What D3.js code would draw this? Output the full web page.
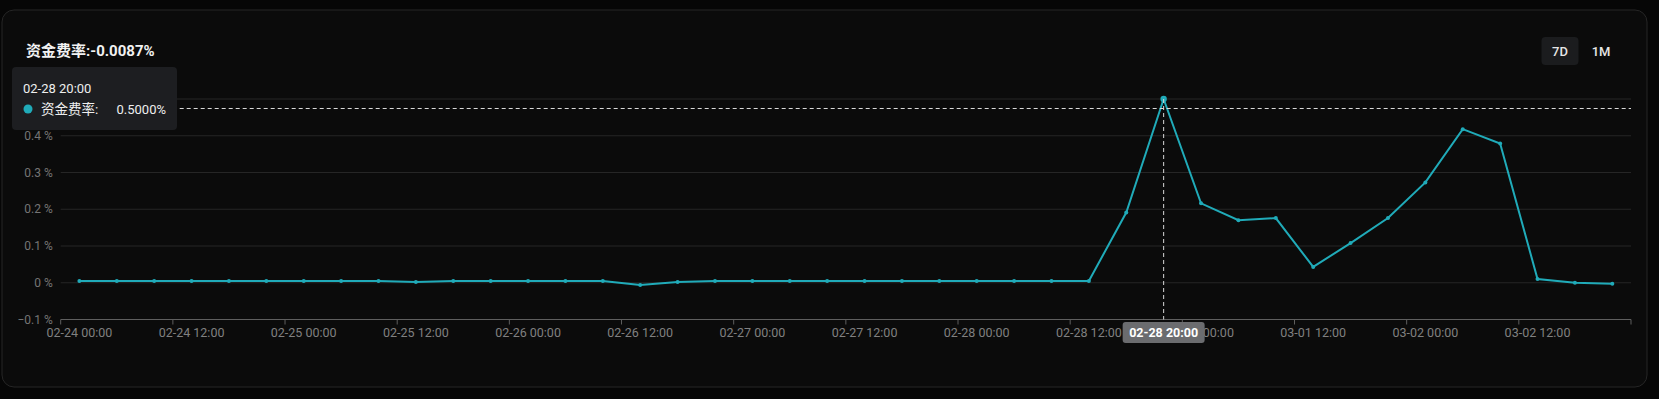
<!DOCTYPE html>
<html>
<head>
<meta charset="utf-8">
<script src="https://cdn.jsdelivr.net/npm/d3@7"></script>
<style>
  html, body { margin: 0; padding: 0; background: #060606; }
  svg { display: block; font-family: Roboto, "Noto Sans CJK SC", sans-serif; }
</style>
</head>
<body>
<svg id="chart" width="1659" height="399"></svg>
<script>
// times, 4h apart
const times = [
  "02-24 00:00","02-24 04:00","02-24 08:00","02-24 12:00","02-24 16:00","02-24 20:00",
  "02-25 00:00","02-25 04:00","02-25 08:00","02-25 12:00","02-25 16:00","02-25 20:00",
  "02-26 00:00","02-26 04:00","02-26 08:00","02-26 12:00","02-26 16:00","02-26 20:00",
  "02-27 00:00","02-27 04:00","02-27 08:00","02-27 12:00","02-27 16:00","02-27 20:00",
  "02-28 00:00","02-28 04:00","02-28 08:00","02-28 12:00","02-28 16:00","02-28 20:00",
  "03-01 00:00","03-01 04:00","03-01 08:00","03-01 12:00","03-01 16:00","03-01 20:00",
  "03-02 00:00","03-02 04:00","03-02 08:00","03-02 12:00","03-02 16:00","03-02 20:00"
]
// funding rate in %
const rates = [
  0.005, 0.005, 0.005, 0.005, 0.005, 0.005,
  0.005, 0.005, 0.005, 0.002, 0.005, 0.005,
  0.005, 0.005, 0.005, -0.006, 0.002, 0.005,
  0.005, 0.005, 0.005, 0.005, 0.005, 0.005,
  0.005, 0.005, 0.005, 0.005, 0.191, 0.5,
  0.216, 0.17, 0.176, 0.043, 0.108, 0.176,
  0.273, 0.418, 0.379, 0.01, 0.0, -0.003
]
const yTicks = [-0.1, 0, 0.1, 0.2, 0.3, 0.4, 0.5]
const title = "资金费率:-0.0087%"
const seriesName = "资金费率"
const ranges = ["7D", "1M"]
const hoverIndex = 29

const color = "#20abb9"
const margin = {top: 99, right: 28, bottom: 79.5, left: 60.7}
const W = 1659, H = 399
const width = W - margin.left - margin.right
const height = H - margin.top - margin.bottom

const svg = d3.select("#chart")

// card
svg.append("rect")
  .attr("x", 2).attr("y", 10).attr("width", 1645).attr("height", 377)
  .attr("rx", 12)
  .attr("fill", "#0b0b0b").attr("stroke", "#262626")

svg.append("text")
  .attr("x", 26).attr("y", 56)
  .attr("fill", "#f2f2f2").attr("font-size", 15).attr("font-weight", 700)
  .text(title)

// range buttons
const btn = svg.append("g").selectAll("g").data(ranges).enter().append("g")
  .attr("transform", (d, i) => "translate(" + (1560 + i * 41) + ",51)")
btn.filter((d, i) => i === 0).append("rect")
  .attr("x", -18.5).attr("y", -14).attr("width", 37).attr("height", 28).attr("rx", 4)
  .attr("fill", "#1b1c1e")
btn.append("text")
  .attr("text-anchor", "middle").attr("dy", "0.36em")
  .attr("fill", "#e6e6e6").attr("font-size", 13).attr("font-weight", 500)
  .text(d => d)

const g = svg.append("g")
  .attr("transform", "translate(" + margin.left + "," + margin.top + ")")

const x = d3.scaleBand().domain(times).range([0, width]).padding(0)
const y = d3.scaleLinear().domain([-0.1, 0.5]).range([height, 0])
const cx = d => x(d) + x.bandwidth() / 2

// grid
g.append("g")
  .selectAll("line")
  .data(yTicks.filter(t => t > -0.1))
  .enter().append("line")
  .attr("x1", 0).attr("x2", width)
  .attr("y1", d => y(d)).attr("y2", d => y(d))
  .attr("stroke", "#262626")

// y labels
g.append("g")
  .selectAll("text")
  .data(yTicks)
  .enter().append("text")
  .attr("x", -8).attr("y", d => y(d)).attr("dy", "0.35em")
  .attr("text-anchor", "end")
  .attr("fill", "#757575").attr("font-size", 12)
  .text(d => d3.format("~g")(d) + " %")

// x axis
const labelIdx = times.map((d, i) => i).filter(i => i % 3 === 0)
const xa = g.append("g").attr("transform", "translate(0," + height + ")")
xa.append("line").attr("x1", 0).attr("x2", width).attr("stroke", "#5f5f5f")
xa.selectAll("line.tick")
  .data(labelIdx.concat([times.length]))
  .enter().append("line").attr("class", "tick")
  .attr("x1", i => i * x.step()).attr("x2", i => i * x.step())
  .attr("y1", 0).attr("y2", 5)
  .attr("stroke", "#5f5f5f")
xa.selectAll("text")
  .data(labelIdx)
  .enter().append("text")
  .attr("x", i => cx(times[i])).attr("y", 13).attr("dy", "0.35em")
  .attr("text-anchor", "middle")
  .attr("fill", "#808080").attr("font-size", 12.5)
  .text(i => times[i])

// line
g.append("path")
  .datum(rates)
  .attr("fill", "none").attr("stroke", color).attr("stroke-width", 2)
  .attr("d", d3.line().x((d, i) => cx(times[i])).y(d => y(d)))

g.append("g")
  .selectAll("circle")
  .data(rates)
  .enter().append("circle")
  .attr("cx", (d, i) => cx(times[i])).attr("cy", d => y(d))
  .attr("r", (d, i) => i === hoverIndex ? 3.2 : 2)
  .attr("fill", color)

// axis pointer
const px = cx(times[hoverIndex])
const py = 9.5
g.append("line")
  .attr("x1", px).attr("x2", px).attr("y1", y(rates[hoverIndex])).attr("y2", height)
  .attr("stroke", "#d8d8d8").attr("stroke-dasharray", "4,3")
g.append("line")
  .attr("x1", 0).attr("x2", width).attr("y1", py).attr("y2", py)
  .attr("stroke", "#d8d8d8").attr("stroke-dasharray", "4,3")

const pl = g.append("g").attr("transform", "translate(" + px + "," + (height + 13) + ")")
pl.append("rect")
  .attr("x", -41).attr("y", -10.5).attr("width", 82).attr("height", 21).attr("rx", 3)
  .attr("fill", "#6b6c6f")
pl.append("text")
  .attr("text-anchor", "middle").attr("dy", "0.35em")
  .attr("fill", "#ffffff").attr("font-size", 12.5).attr("font-weight", 700)
  .text(times[hoverIndex])

// tooltip
const tip = svg.append("g").attr("transform", "translate(12,67)")
tip.append("rect")
  .attr("width", 165).attr("height", 63).attr("rx", 4)
  .attr("fill", "#1d1e21")
tip.append("text")
  .attr("x", 11).attr("y", 26)
  .attr("fill", "#eeeeee").attr("font-size", 13)
  .text(times[hoverIndex])
tip.append("circle").attr("cx", 16).attr("cy", 42).attr("r", 4.5).attr("fill", color)
tip.append("text")
  .attr("x", 29).attr("y", 47)
  .attr("fill", "#eeeeee").attr("font-size", 13.5)
  .text(seriesName + ":")
tip.append("text")
  .attr("x", 154).attr("y", 47).attr("text-anchor", "end")
  .attr("fill", "#eeeeee").attr("font-size", 13)
  .text(d3.format(".4f")(rates[hoverIndex]) + "%")
</script>
</body>
</html>
